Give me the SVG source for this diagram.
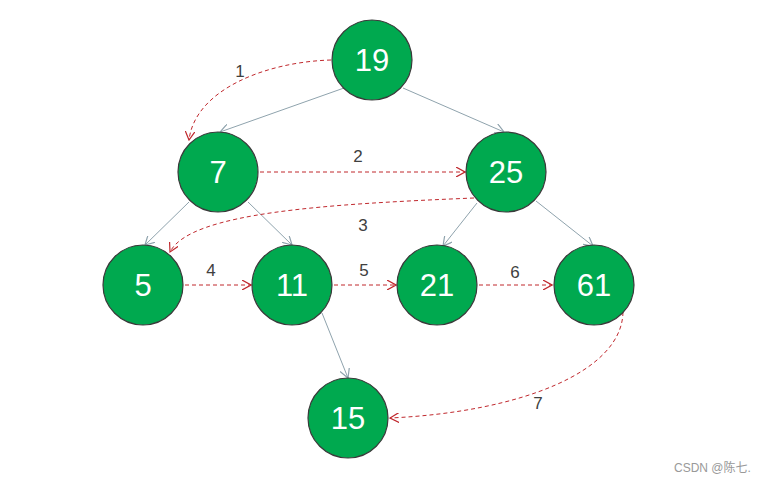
<svg xmlns="http://www.w3.org/2000/svg" width="767" height="483" viewBox="0 0 767 483">
<defs>
<marker id="ga" viewBox="0 0 10 10" refX="9" refY="5" markerWidth="10" markerHeight="10" markerUnits="userSpaceOnUse" orient="auto">
<path d="M0,0 L9,5 L0,10" fill="none" stroke="#8fa3ad" stroke-width="1.2"/>
</marker>
<marker id="ra" viewBox="0 0 10 10" refX="9" refY="5" markerWidth="10" markerHeight="10" markerUnits="userSpaceOnUse" orient="auto">
<path d="M0,0 L9,5 L0,10" fill="none" stroke="#c0282d" stroke-width="1.2"/>
</marker>
</defs>
<style>
.n circle{fill:#00a94f;stroke:#3a3a3a;stroke-width:1.2}
.n text{fill:#ffffff;font-family:"Liberation Sans",Arial,sans-serif;font-size:31px;text-anchor:middle}
.e{stroke:#8fa3ad;stroke-width:1;fill:none;marker-end:url(#ga)}
.t{stroke:#c0282d;stroke-width:1;fill:none;stroke-dasharray:4 3;marker-end:url(#ra)}
.l{fill:#404040;font-family:"Liberation Sans",Arial,sans-serif;font-size:17px;text-anchor:middle}
</style>
<rect width="767" height="483" fill="#ffffff"/>
<g id="connectors">
<line class="e" x1="344" y1="88" x2="220" y2="132"/>
<line class="e" x1="403" y1="88" x2="504" y2="132"/>
<line class="e" x1="189" y1="202" x2="145" y2="245"/>
<line class="e" x1="248" y1="202" x2="292" y2="245"/>
<line class="e" x1="477" y1="203" x2="443" y2="246"/>
<line class="e" x1="536" y1="201" x2="593" y2="246"/>
<line class="e" x1="322" y1="313" x2="348" y2="378"/>
<path class="t" d="M331,60 C265,62 195,90 189,140"/>
<line class="t" x1="260" y1="172" x2="465" y2="172"/>
<path class="t" d="M474,198 C330,204 190,212 170,252"/>
<line class="t" x1="185" y1="285" x2="251" y2="285"/>
<line class="t" x1="334" y1="285" x2="396" y2="285"/>
<line class="t" x1="479" y1="285" x2="552" y2="285"/>
<path class="t" d="M623,312 C622,372 520,412 390,418"/>
<text class="l" x="240" y="77">1</text>
<text class="l" x="358" y="162">2</text>
<text class="l" x="363" y="231">3</text>
<text class="l" x="211" y="276">4</text>
<text class="l" x="364" y="276">5</text>
<text class="l" x="515" y="278">6</text>
<text class="l" x="538" y="409">7</text>
</g>
<g id="n19" class="n"><circle cx="372" cy="60" r="40"/><text x="372" y="71">19</text></g>
<g id="n7" class="n"><circle cx="218" cy="172" r="40"/><text x="218" y="183">7</text></g>
<g id="n25" class="n"><circle cx="506" cy="172" r="40"/><text x="506" y="183">25</text></g>
<g id="n5" class="n"><circle cx="143" cy="285" r="40"/><text x="143" y="296">5</text></g>
<g id="n11" class="n"><circle cx="292" cy="285" r="40"/><text x="292" y="296">11</text></g>
<g id="n21" class="n"><circle cx="437" cy="285" r="40"/><text x="437" y="296">21</text></g>
<g id="n61" class="n"><circle cx="594" cy="285" r="40"/><text x="594" y="296">61</text></g>
<g id="n15" class="n"><circle cx="348" cy="418" r="40"/><text x="348" y="429">15</text></g>
<text x="674" y="472" fill="#999999" font-family="'Liberation Sans','Noto Sans CJK SC',sans-serif" font-size="12">CSDN @陈七.</text>
</svg>
